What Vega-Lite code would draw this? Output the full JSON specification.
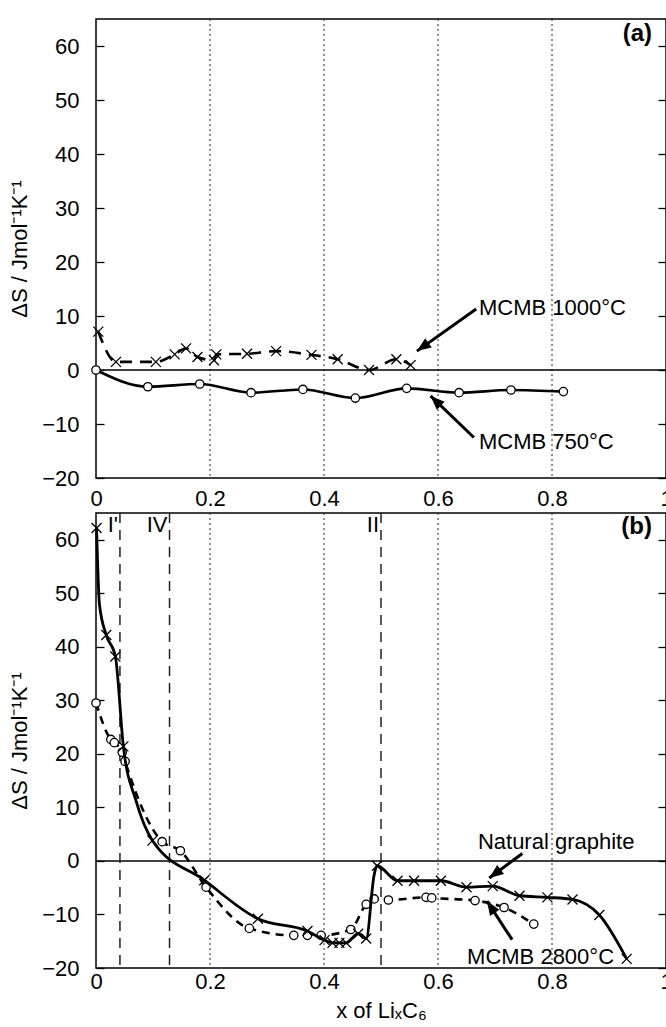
{
  "$schema": "https://vega.github.io/schema/vega-lite/v6.json",
  "background": "white",
  "padding": {"left": 7, "top": 17, "right": 0, "bottom": 0},
  "spacing": 1,
  "datasets": {
    "grid": [{"x": 0.2}, {"x": 0.4}, {"x": 0.6}, {"x": 0.8}],
    "zero": [{"y": 0}],
    "a1000": [
      {"x": 0.004, "y": 7.1}, {"x": 0.035, "y": 1.5}, {"x": 0.105, "y": 1.5}, {"x": 0.138, "y": 2.9},
      {"x": 0.158, "y": 4.0}, {"x": 0.178, "y": 2.4}, {"x": 0.207, "y": 1.8}, {"x": 0.211, "y": 2.9},
      {"x": 0.265, "y": 3.0}, {"x": 0.316, "y": 3.5}, {"x": 0.378, "y": 2.8}, {"x": 0.424, "y": 2.0},
      {"x": 0.479, "y": 0.0}, {"x": 0.527, "y": 2.0}, {"x": 0.552, "y": 0.9}
    ],
    "a750": [
      {"x": 0.0, "y": 0.0}, {"x": 0.091, "y": -3.1}, {"x": 0.182, "y": -2.6}, {"x": 0.272, "y": -4.2},
      {"x": 0.363, "y": -3.6}, {"x": 0.455, "y": -5.2}, {"x": 0.545, "y": -3.4}, {"x": 0.637, "y": -4.2},
      {"x": 0.728, "y": -3.7}, {"x": 0.82, "y": -4.0}
    ],
    "ng": [
      {"x": 0.001, "y": 62.2, "mk": 1}, {"x": 0.006, "y": 48.0, "mk": 0}, {"x": 0.018, "y": 42.2, "mk": 1},
      {"x": 0.034, "y": 38.2, "mk": 1}, {"x": 0.048, "y": 21.4, "mk": 1}, {"x": 0.07, "y": 11.3, "mk": 0},
      {"x": 0.099, "y": 3.8, "mk": 1}, {"x": 0.19, "y": -3.6, "mk": 1}, {"x": 0.284, "y": -10.8, "mk": 1},
      {"x": 0.371, "y": -13.1, "mk": 1}, {"x": 0.401, "y": -14.8, "mk": 1}, {"x": 0.415, "y": -15.3, "mk": 1},
      {"x": 0.427, "y": -15.3, "mk": 1}, {"x": 0.439, "y": -15.3, "mk": 1}, {"x": 0.46, "y": -13.6, "mk": 1},
      {"x": 0.474, "y": -14.5, "mk": 1}, {"x": 0.488, "y": -2.6, "mk": 0}, {"x": 0.493, "y": -0.9, "mk": 1},
      {"x": 0.529, "y": -3.7, "mk": 1}, {"x": 0.558, "y": -3.7, "mk": 1}, {"x": 0.605, "y": -3.7, "mk": 1},
      {"x": 0.65, "y": -4.9, "mk": 1}, {"x": 0.696, "y": -4.7, "mk": 1}, {"x": 0.743, "y": -6.5, "mk": 1},
      {"x": 0.792, "y": -6.8, "mk": 1}, {"x": 0.836, "y": -7.2, "mk": 1}, {"x": 0.883, "y": -10.1, "mk": 1},
      {"x": 0.931, "y": -18.3, "mk": 1}
    ],
    "m2800": [
      {"x": 0.0, "y": 29.5}, {"x": 0.026, "y": 22.7}, {"x": 0.032, "y": 22.1}, {"x": 0.046, "y": 20.3},
      {"x": 0.051, "y": 18.6}, {"x": 0.116, "y": 3.6}, {"x": 0.148, "y": 1.9}, {"x": 0.193, "y": -4.9},
      {"x": 0.269, "y": -12.6}, {"x": 0.347, "y": -13.9}, {"x": 0.371, "y": -13.9}, {"x": 0.395, "y": -13.9},
      {"x": 0.447, "y": -12.8}, {"x": 0.474, "y": -8.1}, {"x": 0.488, "y": -7.1}, {"x": 0.513, "y": -7.3},
      {"x": 0.579, "y": -6.8}, {"x": 0.589, "y": -6.9}, {"x": 0.665, "y": -7.4}, {"x": 0.716, "y": -8.7},
      {"x": 0.768, "y": -11.8}
    ],
    "arrows": [
      {"id": "a1", "x": 0.667, "y": 11.3, "x2": 0.563, "y2": 3.5},
      {"id": "a2", "x": 0.663, "y": -12.5, "x2": 0.587, "y2": -4.8},
      {"id": "b1", "x": 0.748, "y": 1.4, "x2": 0.69, "y2": -3.2},
      {"id": "b2", "x": 0.73, "y": -14.7, "x2": 0.686, "y2": -7.5}
    ],
    "labels": [
      {"panel": "a", "text": "MCMB 1000°C", "x": 0.672, "y": 11.4},
      {"panel": "a", "text": "MCMB 750°C", "x": 0.672, "y": -13.4},
      {"panel": "b", "text": "Natural graphite", "x": 0.67, "y": 3.6},
      {"panel": "b", "text": "MCMB 2800°C", "x": 0.651, "y": -18.0}
    ],
    "tags": [
      {"panel": "a", "text": "(a)", "x": 1, "y": 62.2},
      {"panel": "b", "text": "(b)", "x": 1, "y": 62.3}
    ],
    "phases": [
      {"x": 0.042, "y": 62.7, "text": "I'"},
      {"x": 0.129, "y": 62.7, "text": "IV"},
      {"x": 0.5, "y": 62.7, "text": "II"}
    ]
  },
  "vconcat": [
    {
      "width": 570,
      "height": 459,
      "resolve": {"axis": {"y": "independent"}},
      "layer": [
        {
          "data": {"name": "grid"},
          "mark": {"type": "rule", "strokeDash": [2, 3], "strokeWidth": 1, "color": "#222"},
          "encoding": {
            "x": {"field": "x", "type": "quantitative", "scale": {"domain": [0, 1], "nice": false, "zero": false},
                  "axis": {"orient": "bottom", "values": [0, 0.2, 0.4, 0.6, 0.8, 1], "format": "~g", "ticks": false, "labelPadding": 10, "title": null, "labelFlush": false}}
          }
        },
        {
          "data": {"name": "zero"},
          "mark": {"type": "rule", "strokeWidth": 1.5, "color": "#000"},
          "encoding": {
            "y": {"field": "y", "type": "quantitative", "scale": {"domain": [-20, 65], "nice": false, "zero": false},
                  "axis": {"orient": "left", "values": [-20, -10, 0, 10, 20, 30, 40, 50, 60], "tickSize": -8, "tickWidth": 1.3, "tickColor": "#000", "labelPadding": 25, "title": "ΔS / Jmol⁻¹K⁻¹", "titlePadding": 10}}
          }
        },
        {
          "data": {"name": "a1000"},
          "mark": {"type": "line", "interpolate": "monotone", "strokeDash": [12, 8], "strokeWidth": 2.6, "color": "#000"},
          "encoding": {
            "x": {"field": "x", "type": "quantitative"},
            "y": {"field": "y", "type": "quantitative",
                  "axis": {"orient": "right", "values": [-20, -10, 0, 10, 20, 30, 40, 50, 60], "tickSize": -8, "tickWidth": 1.3, "tickColor": "#000", "labels": false, "title": null}}
          }
        },
        {
          "data": {"name": "a1000"},
          "mark": {"type": "point", "shape": "M-1,-1L1,1M-1,1L1,-1", "size": 100, "strokeWidth": 1.3, "color": "#000", "filled": false, "opacity": 1},
          "encoding": {
            "x": {"field": "x", "type": "quantitative"},
            "y": {"field": "y", "type": "quantitative", "axis": null}
          }
        },
        {
          "data": {"name": "a750"},
          "mark": {"type": "line", "interpolate": "monotone", "strokeWidth": 2.6, "color": "#000"},
          "encoding": {
            "x": {"field": "x", "type": "quantitative"},
            "y": {"field": "y", "type": "quantitative", "axis": null}
          }
        },
        {
          "data": {"name": "a750"},
          "mark": {"type": "point", "shape": "circle", "size": 70, "strokeWidth": 1.3, "stroke": "#000", "fill": "#fff", "filled": true, "fillOpacity": 1, "opacity": 1},
          "encoding": {
            "x": {"field": "x", "type": "quantitative"},
            "y": {"field": "y", "type": "quantitative", "axis": null}
          }
        },
        {
          "data": {"name": "arrows"},
          "transform": [{"filter": "datum.id == 'a1' || datum.id == 'a2'"}],
          "mark": {"type": "rule", "strokeWidth": 3, "color": "#000"},
          "encoding": {
            "x": {"field": "x", "type": "quantitative"},
            "y": {"field": "y", "type": "quantitative", "axis": null},
            "x2": {"field": "x2"},
            "y2": {"field": "y2"}
          }
        },
        {
          "data": {"name": "arrows"},
          "transform": [{"filter": "datum.id == 'a1'"}],
          "mark": {"type": "point", "shape": "M0,0L-0.4,1L0.4,1Z", "size": 800, "angle": 235, "filled": true, "color": "#000", "opacity": 1},
          "encoding": {
            "x": {"field": "x2", "type": "quantitative"},
            "y": {"field": "y2", "type": "quantitative", "axis": null}
          }
        },
        {
          "data": {"name": "arrows"},
          "transform": [{"filter": "datum.id == 'a2'"}],
          "mark": {"type": "point", "shape": "M0,0L-0.4,1L0.4,1Z", "size": 800, "angle": 314, "filled": true, "color": "#000", "opacity": 1},
          "encoding": {
            "x": {"field": "x2", "type": "quantitative"},
            "y": {"field": "y2", "type": "quantitative", "axis": null}
          }
        },
        {
          "data": {"name": "labels"},
          "transform": [{"filter": "datum.panel == 'a'"}],
          "mark": {"type": "text", "align": "left", "baseline": "middle", "fontSize": 22, "font": "Liberation Sans", "color": "#000"},
          "encoding": {
            "x": {"field": "x", "type": "quantitative"},
            "y": {"field": "y", "type": "quantitative", "axis": null},
            "text": {"field": "text"}
          }
        },
        {
          "data": {"name": "tags"},
          "transform": [{"filter": "datum.panel == 'a'"}],
          "mark": {"type": "text", "align": "right", "baseline": "middle", "dx": -14, "fontSize": 24, "fontWeight": "bold", "font": "Liberation Sans", "color": "#000"},
          "encoding": {
            "x": {"field": "x", "type": "quantitative"},
            "y": {"field": "y", "type": "quantitative", "axis": null},
            "text": {"field": "text"}
          }
        }
      ]
    },
    {
      "width": 570,
      "height": 455,
      "resolve": {"axis": {"y": "independent"}},
      "layer": [
        {
          "data": {"name": "grid"},
          "mark": {"type": "rule", "strokeDash": [2, 3], "strokeWidth": 1, "color": "#222"},
          "encoding": {
            "x": {"field": "x", "type": "quantitative", "scale": {"domain": [0, 1], "nice": false, "zero": false},
                  "axis": {"orient": "bottom", "values": [0, 0.2, 0.4, 0.6, 0.8, 1], "format": "~g", "ticks": false, "labelPadding": 3, "title": "x of LiₓC₆", "titlePadding": 8, "labelFlush": false}}
          }
        },
        {
          "data": {"name": "zero"},
          "mark": {"type": "rule", "strokeWidth": 1.5, "color": "#000"},
          "encoding": {
            "y": {"field": "y", "type": "quantitative", "scale": {"domain": [-20, 65], "nice": false, "zero": false},
                  "axis": {"orient": "left", "values": [-20, -10, 0, 10, 20, 30, 40, 50, 60], "tickSize": -8, "tickWidth": 1.3, "tickColor": "#000", "labelPadding": 25, "title": "ΔS / Jmol⁻¹K⁻¹", "titlePadding": 10}}
          }
        },
        {
          "data": {"name": "phases"},
          "mark": {"type": "rule", "strokeDash": [10, 7], "strokeWidth": 1.5, "color": "#222"},
          "encoding": {
            "x": {"field": "x", "type": "quantitative"}
          }
        },
        {
          "data": {"name": "phases"},
          "mark": {"type": "text", "align": "right", "baseline": "middle", "dx": -2, "fontSize": 22, "font": "Liberation Sans", "color": "#000"},
          "encoding": {
            "x": {"field": "x", "type": "quantitative"},
            "y": {"field": "y", "type": "quantitative", "axis": null},
            "text": {"field": "text"}
          }
        },
        {
          "data": {"name": "m2800"},
          "mark": {"type": "line", "interpolate": "monotone", "strokeDash": [8, 6], "strokeWidth": 2.6, "color": "#000"},
          "encoding": {
            "x": {"field": "x", "type": "quantitative"},
            "y": {"field": "y", "type": "quantitative",
                  "axis": {"orient": "right", "values": [-20, -10, 0, 10, 20, 30, 40, 50, 60], "tickSize": -8, "tickWidth": 1.3, "tickColor": "#000", "labels": false, "title": null}}
          }
        },
        {
          "data": {"name": "m2800"},
          "mark": {"type": "point", "shape": "circle", "size": 70, "strokeWidth": 1.3, "stroke": "#000", "fill": "#fff", "filled": true, "fillOpacity": 1, "opacity": 1},
          "encoding": {
            "x": {"field": "x", "type": "quantitative"},
            "y": {"field": "y", "type": "quantitative", "axis": null}
          }
        },
        {
          "data": {"name": "ng"},
          "mark": {"type": "line", "interpolate": "monotone", "strokeWidth": 2.8, "color": "#000"},
          "encoding": {
            "x": {"field": "x", "type": "quantitative"},
            "y": {"field": "y", "type": "quantitative", "axis": null}
          }
        },
        {
          "data": {"name": "ng"},
          "transform": [{"filter": "datum.mk == 1"}],
          "mark": {"type": "point", "shape": "M-1,-1L1,1M-1,1L1,-1", "size": 100, "strokeWidth": 1.3, "color": "#000", "filled": false, "opacity": 1},
          "encoding": {
            "x": {"field": "x", "type": "quantitative"},
            "y": {"field": "y", "type": "quantitative", "axis": null}
          }
        },
        {
          "data": {"name": "arrows"},
          "transform": [{"filter": "datum.id == 'b1' || datum.id == 'b2'"}],
          "mark": {"type": "rule", "strokeWidth": 3, "color": "#000"},
          "encoding": {
            "x": {"field": "x", "type": "quantitative"},
            "y": {"field": "y", "type": "quantitative", "axis": null},
            "x2": {"field": "x2"},
            "y2": {"field": "y2"}
          }
        },
        {
          "data": {"name": "arrows"},
          "transform": [{"filter": "datum.id == 'b1'"}],
          "mark": {"type": "point", "shape": "M0,0L-0.4,1L0.4,1Z", "size": 800, "angle": 233, "filled": true, "color": "#000", "opacity": 1},
          "encoding": {
            "x": {"field": "x2", "type": "quantitative"},
            "y": {"field": "y2", "type": "quantitative", "axis": null}
          }
        },
        {
          "data": {"name": "arrows"},
          "transform": [{"filter": "datum.id == 'b2'"}],
          "mark": {"type": "point", "shape": "M0,0L-0.4,1L0.4,1Z", "size": 800, "angle": 327, "filled": true, "color": "#000", "opacity": 1},
          "encoding": {
            "x": {"field": "x2", "type": "quantitative"},
            "y": {"field": "y2", "type": "quantitative", "axis": null}
          }
        },
        {
          "data": {"name": "labels"},
          "transform": [{"filter": "datum.panel == 'b'"}],
          "mark": {"type": "text", "align": "left", "baseline": "middle", "fontSize": 22, "font": "Liberation Sans", "color": "#000"},
          "encoding": {
            "x": {"field": "x", "type": "quantitative"},
            "y": {"field": "y", "type": "quantitative", "axis": null},
            "text": {"field": "text"}
          }
        },
        {
          "data": {"name": "tags"},
          "transform": [{"filter": "datum.panel == 'b'"}],
          "mark": {"type": "text", "align": "right", "baseline": "middle", "dx": -14, "fontSize": 24, "fontWeight": "bold", "font": "Liberation Sans", "color": "#000"},
          "encoding": {
            "x": {"field": "x", "type": "quantitative"},
            "y": {"field": "y", "type": "quantitative", "axis": null},
            "text": {"field": "text"}
          }
        }
      ]
    }
  ],
  "config": {
    "view": {"stroke": "#000", "strokeWidth": 1.5},
    "axis": {"labelFont": "Liberation Sans", "labelFontSize": 22, "labelColor": "#000", "titleFont": "Liberation Sans", "titleFontSize": 22, "titleFontWeight": "normal", "titleColor": "#000", "domain": false, "grid": false},
    "text": {"font": "Liberation Sans", "fontSize": 20, "color": "#000"}
  }
}
